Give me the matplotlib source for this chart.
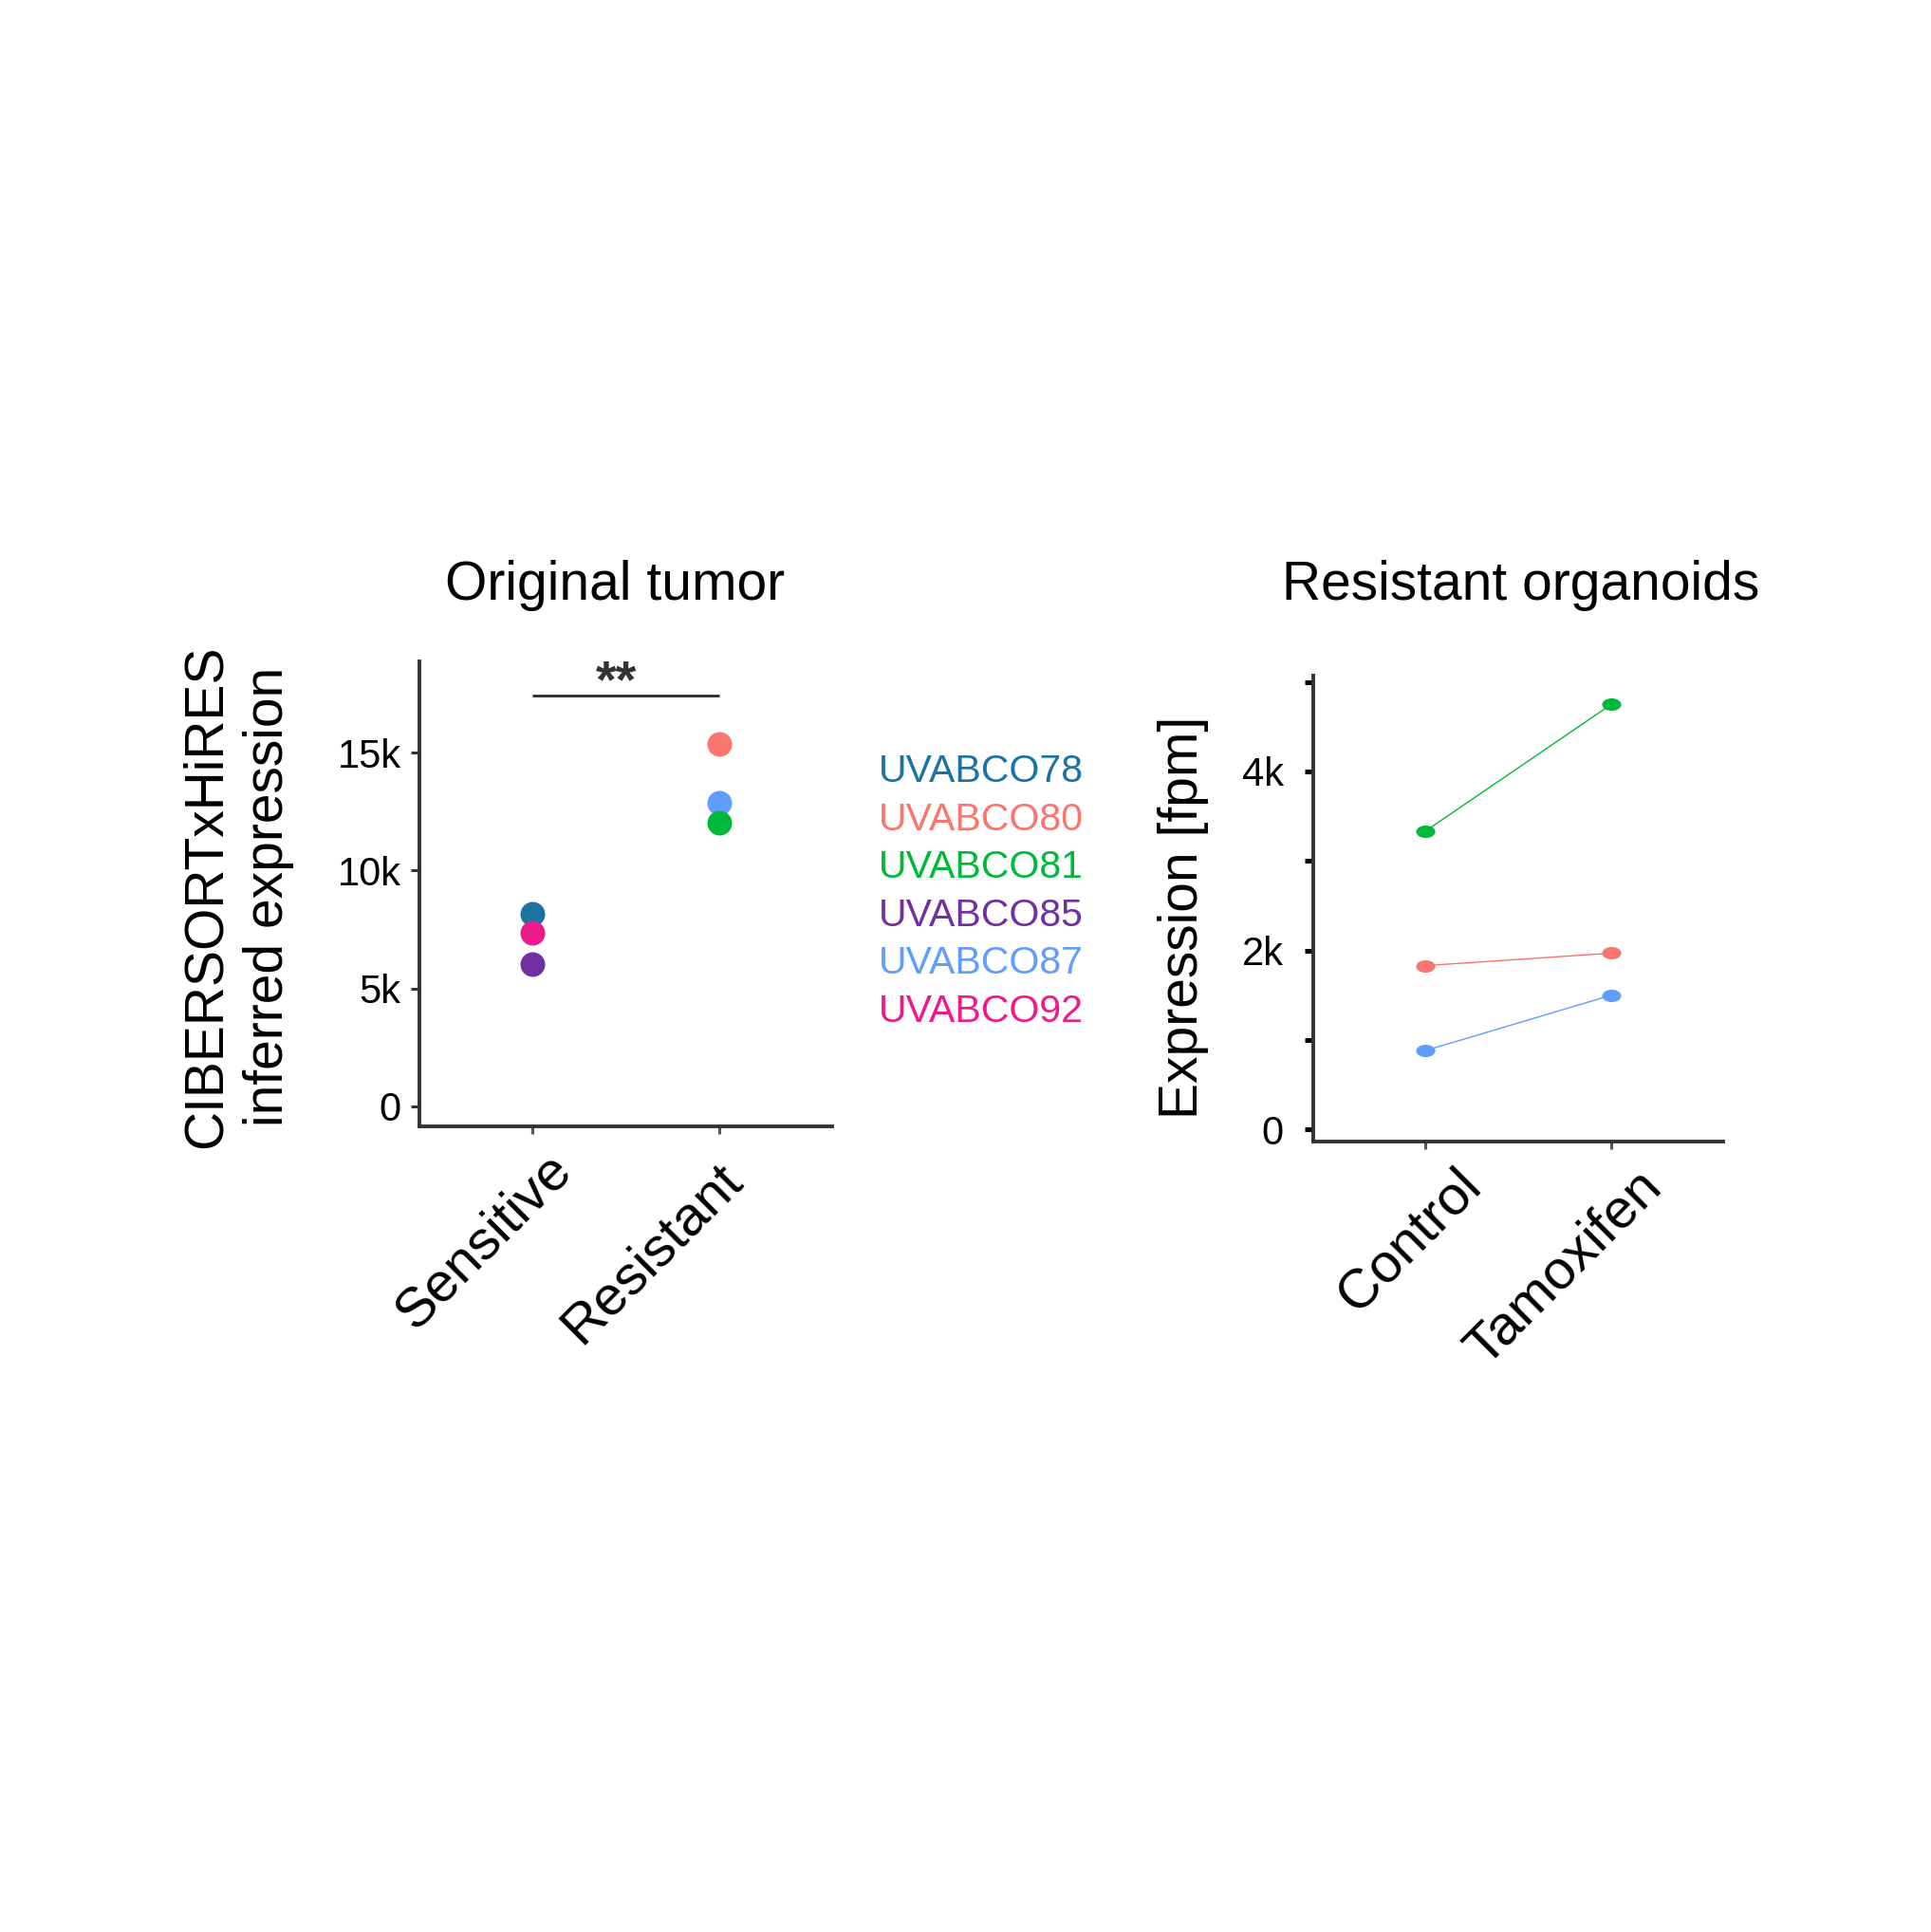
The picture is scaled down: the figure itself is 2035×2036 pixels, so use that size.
import matplotlib
matplotlib.use("Agg")
import matplotlib.pyplot as plt
import numpy as np
from matplotlib.path import Path
from matplotlib.transforms import ScaledTranslation
from matplotlib.ticker import FixedLocator, FuncFormatter

plt.rcParams['font.family'] = ['Liberation Sans', 'DejaVu Sans']

# ---------------- data ----------------
samples = ["UVABCO78", "UVABCO80", "UVABCO81", "UVABCO85", "UVABCO87", "UVABCO92"]
sample_colors = ["#1A73A0", "#F8766D", "#00B93A", "#7030A0", "#619CFF", "#F0198C"]
tumor_group = ["Sensitive", "Resistant", "Resistant", "Sensitive", "Resistant", "Sensitive"]
tumor_expr = [8180, 15380, 12040, 6030, 12870, 7380]
tumor_categories = ["Sensitive", "Resistant"]
tumor_yticks = [0, 5000, 10000, 15000]
signif_label = "**"
signif_y = 17430

org_samples = ["UVABCO80", "UVABCO81", "UVABCO87"]
org_categories = ["Control", "Tamoxifen"]
org_control = [1830, 3330, 880]
org_tamoxifen = [1970, 4750, 1500]
org_yticks = [0, 1000, 2000, 3000, 4000, 5000]
org_ytick_labels = ["0", "", "2k", "", "4k", ""]

# ---------------- figure ----------------
W, H = 2035, 2036
fig = plt.figure(figsize=(W / 100, H / 100), dpi=100)
fig.patch.set_facecolor("white")


def px_axes(x0, y0, x1, y1):
    return fig.add_axes([x0 / W, 1 - y1 / H, (x1 - x0) / W, (y1 - y0) / H])


def kfmt(v, _):
    return "0" if v == 0 else f"{int(round(v / 1000))}k"


def style_axes(ax):
    for s in ["top", "right"]:
        ax.spines[s].set_visible(False)
    for s in ["left", "bottom"]:
        ax.spines[s].set_color("#333333")
        ax.spines[s].set_linewidth(2.8)
    ax.set_facecolor("white")


def offset_xticklabels(ax, offsets_px):
    for lab, (dx, dy) in zip(ax.get_xticklabels(), offsets_px):
        off = ScaledTranslation(dx / 100, -dy / 100, fig.dpi_scale_trans)
        lab.set_transform(lab.get_transform() + off)


# ---------- left panel: Original tumor ----------
ax1 = px_axes(442, 697, 877, 1187)
style_axes(ax1)
cat_pos1 = {c: i + 1 for i, c in enumerate(tumor_categories)}
draw_order = [0, 1, 4, 2, 3, 5]
for i in draw_order:
    ax1.plot(cat_pos1[tumor_group[i]], tumor_expr[i], "o", ms=18.7,
             color=sample_colors[i], mec="none", zorder=3)
ax1.plot([cat_pos1["Sensitive"], cat_pos1["Resistant"]], [signif_y, signif_y],
         color="#333333", lw=2.1, solid_capstyle="butt")
ax1.text(1.45, 17950, signif_label, ha="center", va="center", fontsize=40,
         fontweight="bold", color="#333333")
ax1.set_xlim(0.4, 2.6)
ax1.set_ylim(-850, 18870)
ax1.yaxis.set_major_locator(FixedLocator(tumor_yticks))
ax1.yaxis.set_major_formatter(FuncFormatter(kfmt))
ax1.set_xticks([cat_pos1[c] for c in tumor_categories])
ax1.set_xticklabels(tumor_categories, fontsize=42, rotation=45, ha="right",
                    va="baseline", rotation_mode="anchor")
ax1.tick_params(axis="y", length=6.5, width=2.2, color="#333333",
                labelsize=30, pad=7.5, labelcolor="black")
ax1.tick_params(axis="x", length=6, width=2.2, color="#555555", pad=0)
offset_xticklabels(ax1, [(44, 40), (26, 50)])
ax1.set_title("Original tumor", fontsize=41, x=0.474, y=1.147, va="center")
ax1.set_ylabel("CIBERSORTxHiRES\ninferred expression", fontsize=41,
               linespacing=1.28)
ax1.yaxis.set_label_coords(-0.441, 0.494)
ax1.yaxis.label.set_va("center")

# legend (sample names in colour)
for k, (name, col) in enumerate(zip(samples, sample_colors)):
    fig.text(926 / W, 1 - (813 + k * 50.6) / H, name, color=col, fontsize=29.5,
             ha="left", va="center")

# ---------- right panel: Resistant organoids ----------
ax2 = px_axes(1384, 712, 1816, 1203)
style_axes(ax2)
circ = Path.unit_circle()
ellipse = Path(circ.vertices * np.array([1.0, 0.65]), circ.codes)
cat_pos2 = {c: i + 1 for i, c in enumerate(org_categories)}
for name, c0, c1 in zip(org_samples, org_control, org_tamoxifen):
    col = sample_colors[samples.index(name)]
    ax2.plot([cat_pos2["Control"], cat_pos2["Tamoxifen"]], [c0, c1], color=col,
             lw=1.0, marker=ellipse, ms=14.5, mec="none", mfc=col, zorder=3)
ax2.set_xlim(0.4, 2.6)
ax2.set_ylim(-135, 5070)
ax2.yaxis.set_major_locator(FixedLocator(org_yticks))
ax2.set_yticklabels(org_ytick_labels)
ax2.set_xticks([cat_pos2[c] for c in org_categories])
ax2.set_xticklabels(org_categories, fontsize=42, rotation=45, ha="right",
                    va="baseline", rotation_mode="anchor")
ax2.tick_params(axis="y", length=6.5, width=3.6, color="black",
                labelsize=30, pad=16)
ax2.tick_params(axis="x", length=6, width=2.2, color="#555555", pad=0)
offset_xticklabels(ax2, [(61, 40), (55, 41)])
ax2.set_title("Resistant organoids", fontsize=41, x=0.505, y=1.176, va="center")
ax2.set_ylabel("Expression [fpm]", fontsize=41)
ax2.yaxis.set_label_coords(-0.317, 0.481)
ax2.yaxis.label.set_va("center")

fig.savefig("out.png", dpi=100, facecolor="white")
